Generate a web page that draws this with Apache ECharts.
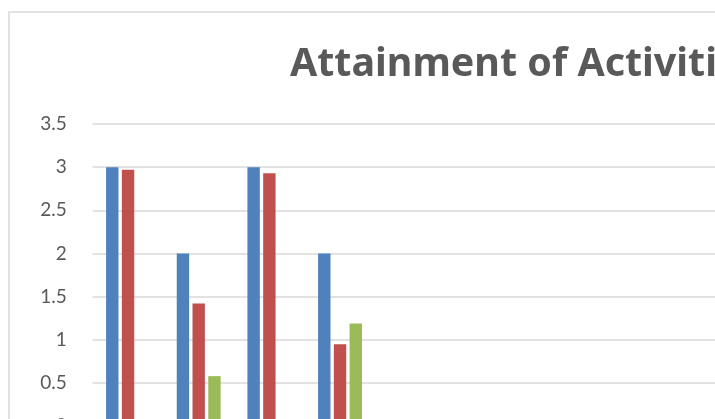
<!DOCTYPE html>
<html>
<head>
<meta charset="utf-8">
<script src="https://cdn.jsdelivr.net/npm/echarts@6/dist/echarts.min.js"></script>
<style>html,body{margin:0;padding:0;background:#fff}#c{width:715px;height:419px}</style>
</head>
<body>
<div id="c"></div>
<script>
const titleText = "Attainment of Activities";
const categories = ["1", "2", "3", "4", "5", "6", "7", "8", "9"];
const seriesBlue = [3, 2, 3, 2, null, null, null, null, null];
const seriesRed = [2.97, 1.42, 2.93, 0.95, null, null, null, null, null];
const seriesGreen = [null, 0.58, null, 1.19, null, null, null, null, null];
const yTicks = { min: 0, max: 3.5, interval: 0.5 };

const chart = echarts.init(document.getElementById('c'), null, { renderer: 'canvas' });
const barCommon = { type: 'bar', barWidth: 12.4, barGap: '27%', animation: false };
chart.setOption({
  animation: false,
  backgroundColor: '#fff',
  title: {
    text: titleText, left: 285, top: 40,
    textStyle: { fontFamily: 'Noto Sans', fontWeight: 'bold', fontSize: 39.4, color: '#595959' }
  },
  graphic: [{
    type: 'rect', silent: true,
    shape: { x: 9, y: 12, width: 1000, height: 1000 },
    style: { fill: null, stroke: '#d9d9d9', lineWidth: 1.5 }
  }],
  grid: { left: 92.7, right: -13.7, top: 124, bottom: -7.2, containLabel: false, outerBoundsMode: 'none' },
  xAxis: {
    type: 'category', data: categories,
    axisLine: { show: true, lineStyle: { color: '#d9d9d9' } },
    axisTick: { show: false }, axisLabel: { show: false }
  },
  yAxis: {
    type: 'value', min: yTicks.min, max: yTicks.max, interval: yTicks.interval,
    axisLine: { show: false }, axisTick: { show: false },
    axisLabel: { color: '#595959', fontFamily: 'Lato', fontSize: 19, margin: 26 },
    splitLine: { lineStyle: { color: '#d9d9d9', width: 1.5 } }
  },
  series: [
    Object.assign({ name: 'A', data: seriesBlue, itemStyle: { color: '#4F81BD' } }, barCommon),
    Object.assign({ name: 'B', data: seriesRed, itemStyle: { color: '#C0504D' } }, barCommon),
    Object.assign({ name: 'C', data: seriesGreen, itemStyle: { color: '#9BBB59' } }, barCommon)
  ]
});
</script>
</body>
</html>
